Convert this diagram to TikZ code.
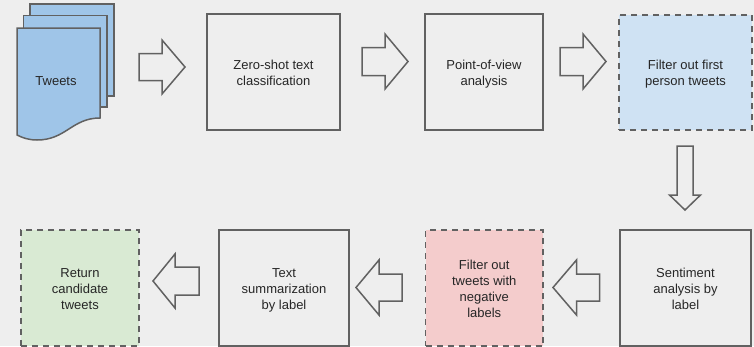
\documentclass[tikz,border=0pt]{standalone}
\usepackage{fontspec}
\setmainfont{Liberation Sans}
\definecolor{bgc}{HTML}{EEEEEE}
\definecolor{linec}{HTML}{616161}
\definecolor{docblue}{HTML}{9FC5E8}
\definecolor{lblue}{HTML}{CFE2F3}
\definecolor{lred}{HTML}{F4CCCC}
\definecolor{lgreen}{HTML}{D9EAD3}
\newcommand{\harrow}[6]{\draw[flow] (#1,{#4-#5}) -- (#2,{#4-#5}) -- (#2,{#4-#6}) -- (#3,#4) -- (#2,{#4+#6}) -- (#2,{#4+#5}) -- (#1,{#4+#5}) -- cycle;}
\newcommand{\varrow}[6]{\draw[flow] ({#4-#5},#1) -- ({#4-#5},#2) -- ({#4-#6},#2) -- (#4,#3) -- ({#4+#6},#2) -- ({#4+#5},#2) -- ({#4+#5},#1) -- cycle;}
\newcommand{\topstrut}{\rule{0pt}{15.2pt}}
\tikzset{
  flow/.style={draw=linec,line width=1.5pt,line join=miter},
  boxnode/.style={draw=linec,line width=1.6pt,inner sep=0pt,align=center,font=\fontsize{13}{16}\selectfont,text=black!85},
  dashbox/.style={boxnode,dash pattern=on 6pt off 5pt},
  page/.style={draw=linec,line width=1.5pt,fill=docblue,line join=miter}
}
\begin{document}
\begin{tikzpicture}[x=1pt,y=-1pt]
\useasboundingbox[fill=bgc] (0,0) rectangle (754,346);
% document stack
\draw[page] (30,4) rectangle (114,96);
\draw[page] (23.5,15.5) rectangle (107,107);
\draw[page] (17,28) -- (100,28) -- (100,118) .. controls (72,118) and (66,140) .. (37,140) .. controls (29,140) and (23,138) .. (17,135) -- cycle;
\node[font=\fontsize{13}{16}\selectfont,text=black!85,inner sep=0pt] (tweets) at (56,81) {Tweets};
% boxes
\node[boxnode,minimum width=133pt,minimum height=116pt] (zero) at (273.5,72) {\topstrut Zero-shot text\\classification\strut};
\node[boxnode,minimum width=118pt,minimum height=116pt] (pov) at (484,72) {\topstrut Point-of-view\\analysis\strut};
\node[dashbox,fill=lblue,minimum width=133pt,minimum height=115pt] (first) at (685.5,72.5) {\topstrut Filter out first\\person tweets\strut};
\node[boxnode,minimum width=131pt,minimum height=116pt] (senti) at (685.5,288) {\topstrut Sentiment\\analysis by\\label\strut};
\node[dashbox,fill=lred,minimum width=117.5pt,minimum height=116pt] (neg) at (484.25,288) {\topstrut Filter out\\tweets with\\negative\\labels\strut};
\node[boxnode,minimum width=130pt,minimum height=116pt] (summ) at (284,288) {\topstrut Text\\summarization\\by label\strut};
\node[dashbox,fill=lgreen,minimum width=118pt,minimum height=116pt] (ret) at (80,288) {\topstrut Return\\candidate\\tweets\strut};
% block arrows
\harrow{139}{162}{185}{67}{13.5}{27}
\harrow{362}{385}{408}{61.5}{14}{27.5}
\harrow{560}{583}{606}{61.5}{14}{27.5}
\varrow{146}{195}{210}{685}{8}{15.5}
\harrow{599.5}{576.5}{553}{287.5}{13.5}{27.5}
\harrow{402}{379}{356}{287.5}{13.5}{27.5}
\harrow{199}{175}{153}{281}{14}{27}
\end{tikzpicture}
\end{document}
